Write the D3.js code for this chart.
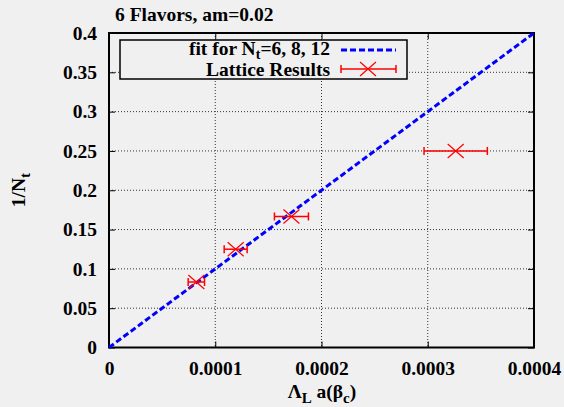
<!DOCTYPE html>
<html>
<head>
<meta charset="utf-8">
<script src="https://cdn.jsdelivr.net/npm/d3@7"></script>
<style>
body{margin:0;background:#f0f0f0;}
svg{display:block;}
</style>
</head>
<body>
<script>
// lattice data points
var latticeX=[0.0000822,0.0001192,0.0001717,0.0003263]
var latticeXErr=[0.0000077,0.0000108,0.000016,0.0000298]
var latticeY=[0.0833,0.125,0.1667,0.25]

// fit line ends
var fitX=[0,0.0004]
var fitY=[0,0.4]

var xTicks=[0,0.0001,0.0002,0.0003,0.0004]
var xTickLabels=["0","0.0001","0.0002","0.0003","0.0004"]
var yTicks=[0,0.05,0.1,0.15,0.2,0.25,0.3,0.35,0.4]
var yTickLabels=["0","0.05","0.1","0.15","0.2","0.25","0.3","0.35","0.4"]

var screen={width:564,height:407}
var margin={top:33,left:109}
var w=534-margin.left
var h=347.5-margin.top
var font="Liberation Serif"
var fs="19.5px"

var svg=d3.select("body").append("svg")
.attr("width",screen.width)
.attr("height",screen.height)

svg.append("rect").attr("width",screen.width).attr("height",screen.height).attr("fill","#f0f0f0")

var g=svg.append("g").attr("transform","translate("+margin.left+","+margin.top+")")

var x=d3.scaleLinear().domain([0,0.0004]).range([0,w])
var y=d3.scaleLinear().domain([0,0.4]).range([h,0])

// grid
g.selectAll(".gx").data(xTicks.slice(1,-1)).enter().append("line")
.attr("x1",d=>x(d)).attr("x2",d=>x(d)).attr("y1",0).attr("y2",h)
.attr("stroke","#333").attr("stroke-width",1).attr("stroke-dasharray","1,2")
g.selectAll(".gy").data(yTicks.slice(1,-1)).enter().append("line")
.attr("x1",0).attr("x2",w).attr("y1",d=>y(d)).attr("y2",d=>y(d))
.attr("stroke","#333").attr("stroke-width",1).attr("stroke-dasharray","1,2")

// axes (ticks inward, mirrored)
var fmtX=function(d,i){return xTickLabels[i]}
var fmtY=function(d,i){return yTickLabels[i]}
var ax=g.append("g").attr("transform","translate(0,"+h+")")
.call(d3.axisBottom(x).tickValues(xTicks).tickFormat(fmtX).tickSizeInner(-6).tickSizeOuter(0).tickPadding(14))
var ay=g.append("g")
.call(d3.axisLeft(y).tickValues(yTicks).tickFormat(fmtY).tickSizeInner(-6).tickSizeOuter(0).tickPadding(12))
var at=g.append("g")
.call(d3.axisTop(x).tickValues(xTicks).tickFormat("").tickSizeInner(-6).tickSizeOuter(0))
var ar=g.append("g").attr("transform","translate("+w+",0)")
.call(d3.axisRight(y).tickValues(yTicks).tickFormat("").tickSizeInner(-6).tickSizeOuter(0))
;[ax,ay,at,ar].forEach(function(a){
  a.attr("font-family",null).attr("font-size",null)
  a.selectAll("text").style("font-size",fs).style("font-family",font).style("font-weight","bold").attr("fill","#000")
  a.selectAll("line").attr("stroke","#000").attr("stroke-width",1)
  a.select(".domain").remove()
})
ax.selectAll("text").attr("dy","0.71em")
g.append("rect").attr("width",w).attr("height",h).attr("fill","none").attr("stroke","#000").attr("stroke-width",2)

// fit line
var line=d3.line().x(d=>x(d[0])).y(d=>y(d[1]))
g.append("path").datum(d3.zip(fitX,fitY)).attr("d",line)
.attr("fill","none").attr("stroke","#0000ff").attr("stroke-width",3).attr("stroke-dasharray","6,3")

// lattice results
var red="#ff0000"
var pts=g.selectAll(".pt").data(d3.range(latticeX.length)).enter().append("g")
.attr("transform",i=>"translate(0,"+y(latticeY[i])+")")
pts.append("line").attr("x1",i=>x(latticeX[i]-latticeXErr[i])).attr("x2",i=>x(latticeX[i]+latticeXErr[i]))
.attr("stroke",red).attr("stroke-width",1.5)
pts.append("line").attr("x1",i=>x(latticeX[i]-latticeXErr[i])).attr("x2",i=>x(latticeX[i]-latticeXErr[i]))
.attr("y1",-4).attr("y2",4).attr("stroke",red).attr("stroke-width",1.5)
pts.append("line").attr("x1",i=>x(latticeX[i]+latticeXErr[i])).attr("x2",i=>x(latticeX[i]+latticeXErr[i]))
.attr("y1",-4).attr("y2",4).attr("stroke",red).attr("stroke-width",1.5)
pts.append("path").attr("d",i=>{var cx=x(latticeX[i]);return "M"+(cx-8)+",-7L"+(cx+8)+",7M"+(cx-8)+",7L"+(cx+8)+",-7"})
.attr("stroke",red).attr("stroke-width",1.2).attr("fill","none")

function txt(sel){return sel.style("font-family",font).style("font-weight","bold").style("font-size",fs).attr("fill","#000")}

// legend
svg.append("rect").attr("x",120).attr("y",40).attr("width",287).attr("height",39)
.attr("fill","#f0f0f0").attr("stroke","#000").attr("stroke-width",1.5)
var t1=txt(svg.append("text")).attr("x",330).attr("y",55).attr("text-anchor","end")
t1.append("tspan").text("fit for N")
t1.append("tspan").attr("dy",4).style("font-size","14px").text("t")
t1.append("tspan").attr("dy",-4).text("=6, 8, 12")
svg.append("line").attr("x1",341).attr("x2",396).attr("y1",50).attr("y2",50)
.attr("stroke","#0000ff").attr("stroke-width",3).attr("stroke-dasharray","6,3")
txt(svg.append("text")).attr("x",330).attr("y",76).attr("text-anchor","end").text("Lattice Results")
svg.append("line").attr("x1",341).attr("x2",396).attr("y1",69).attr("y2",69).attr("stroke",red).attr("stroke-width",1.5)
svg.append("line").attr("x1",341).attr("x2",341).attr("y1",65).attr("y2",73).attr("stroke",red).attr("stroke-width",1.5)
svg.append("line").attr("x1",396).attr("x2",396).attr("y1",65).attr("y2",73).attr("stroke",red).attr("stroke-width",1.5)
svg.append("path").attr("d","M360,62L376,76M360,76L376,62").attr("stroke",red).attr("stroke-width",1.2).attr("fill","none")

// title and axis labels
txt(svg.append("text")).attr("x",115).attr("y",21).text("6 Flavors, am=0.02")
var xl=txt(svg.append("text")).attr("x",322).attr("y",398).attr("text-anchor","middle")
xl.append("tspan").text("\u039B")
xl.append("tspan").attr("dy",5).style("font-size","15px").text("L")
xl.append("tspan").attr("dy",-5).text(" a(\u03B2")
xl.append("tspan").attr("dy",5).style("font-size","15px").text("c")
xl.append("tspan").attr("dy",-5).text(")")
var yl=txt(svg.append("text")).attr("transform","translate(25,190) rotate(-90)").attr("text-anchor","middle")
yl.append("tspan").text("1/N")
yl.append("tspan").attr("dy",5).style("font-size","15px").text("t")
</script>
</body>
</html>
